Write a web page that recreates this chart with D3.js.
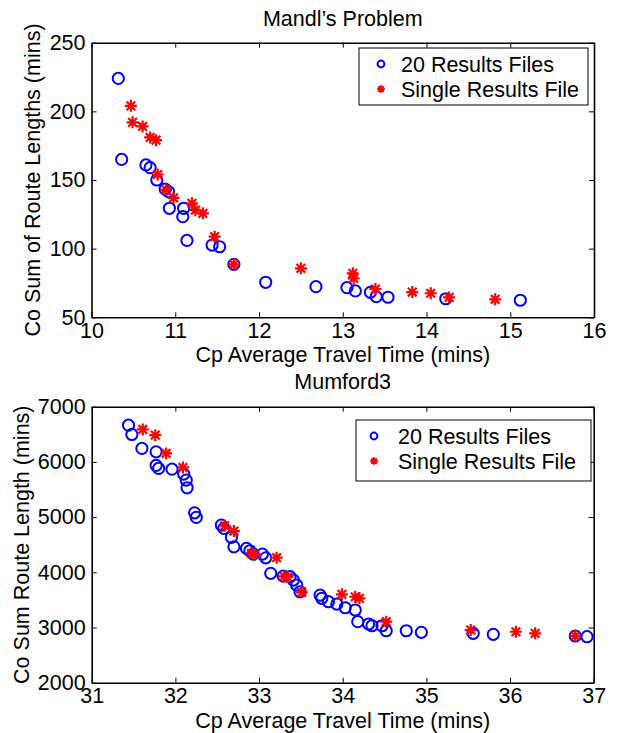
<!DOCTYPE html>
<html>
<head>
<meta charset="utf-8">
<script src="https://cdn.jsdelivr.net/npm/d3@7"></script>
<style>
  html, body { margin: 0; padding: 0; background: #fff; }
  svg { display: block; font-family: "Liberation Sans", Arial, Helvetica, sans-serif; }
</style>
</head>
<body>
<script>
// ---------- data ----------
const mandlTitle = "Mandl’s Problem";
const mandlXTicks = [10, 11, 12, 13, 14, 15, 16];
const mandlYTicks = [50, 100, 150, 200, 250];
const mandlMulti = [
  [10.32,224],[10.36,165],[10.65,161],[10.70,159],[10.78,150],[10.88,143.4],[10.92,141.5],
  [10.93,129.4],[11.10,129.4],[11.09,123.3],[11.14,106],[11.44,102.6],[11.53,101.4],
  [11.70,88.6],[12.08,75.5],[12.68,72.3],[13.05,71.6],[13.15,69.2],[13.33,68.2],
  [13.40,65],[13.54,64.6],[14.23,63.5],[15.12,62.4]
];
const mandlSingle = [
  [10.47,204],[10.49,192],[10.61,189],[10.70,181],[10.77,179],[10.79,154],[10.89,143],
  [10.98,137],[11.20,133],[11.24,128],[11.33,125.7],[11.47,108.7],[11.70,88.6],
  [12.50,85.7],[13.12,82],[13.13,78.4],[13.39,70.6],[13.83,68.4],[14.05,67.5],
  [14.27,64.5],[14.82,63.1]
];

const mumTitle = "Mumford3";
const mumXTicks = [31, 32, 33, 34, 35, 36, 37];
const mumYTicks = [2000, 3000, 4000, 5000, 6000, 7000];
const mumMulti = [
  [31.44,6666],[31.48,6497],[31.60,6244],[31.77,6183],[31.77,5936],[31.80,5882],[31.96,5869],
  [32.10,5779],[32.13,5670],[32.14,5531],[32.23,5078],[32.25,4995],[32.55,4855],[32.58,4795],
  [32.67,4633],[32.70,4462],[32.85,4433],[32.89,4390],[32.93,4330],[33.04,4330],[33.08,4262],
  [33.14,3981],[33.29,3932],[33.37,3920],[33.41,3860],[33.45,3770],[33.49,3648],[33.73,3588],
  [33.75,3528],[33.83,3467],[33.93,3425],[34.03,3358],[34.15,3317],[34.18,3105],[34.31,3063],
  [34.35,3032],[34.47,3032],[34.52,2941],[34.76,2941],[34.94,2912],[35.56,2894],[35.80,2876],
  [36.78,2846],[36.92,2833]
];
const mumSingle = [
  [31.61,6588],[31.76,6485],[31.89,6153],[32.09,5900],[32.59,4843],[32.70,4747],[32.91,4343],
  [32.95,4320],[33.21,4265],[33.30,3925],[33.34,3915],[33.51,3637],[33.99,3601],[34.15,3557],
  [34.20,3528],[34.52,3105],[35.53,2954],[36.07,2923],[36.30,2894],[36.78,2846]
];

const xLabel = "Cp Average Travel Time (mins)";
const mandlYLabel = "Co Sum of Route Lengths (mins)";
const mumYLabel = "Co Sum Route Length (mins)";
const legendLabels = ["20 Results Files", "Single Results File"];

// ---------- drawing ----------
const W = 623, H = 733;
const FS = 21.5;
const svg = d3.select("body").append("svg").attr("width", W).attr("height", H);
svg.append("rect").attr("width", W).attr("height", H).attr("fill", "#fff");

function starPath(r) {
  const d = r * 0.72;
  return `M${-r},0H${r}M0,${-r}V${r}M${-d},${-d}L${d},${d}M${-d},${d}L${d},${-d}`;
}

function panel(cfg) {
  const x = d3.scaleLinear().domain(cfg.xDomain).range([cfg.left, cfg.right]);
  const y = d3.scaleLinear().domain(cfg.yDomain).range([cfg.bottom, cfg.top]);
  const g = svg.append("g");

  // markers
  g.append("g").selectAll("circle").data(cfg.multi).join("circle")
    .attr("cx", d => x(d[0])).attr("cy", d => y(d[1])).attr("r", 5.6)
    .attr("fill", "none").attr("stroke", "#0000ff").attr("stroke-width", 2);
  g.append("g").selectAll("path").data(cfg.single).join("path")
    .attr("transform", d => `translate(${x(d[0])},${y(d[1])})`)
    .attr("d", starPath(6))
    .attr("fill", "none").attr("stroke", "#ff0000").attr("stroke-width", 2.2);

  // axes
  const axB = d3.axisBottom(x).tickValues(cfg.xTicks).tickFormat(d3.format("d"))
    .tickSizeInner(-5).tickSizeOuter(0).tickPadding(5);
  const axT = d3.axisTop(x).tickValues(cfg.xTicks).tickFormat("")
    .tickSizeInner(-5).tickSizeOuter(0);
  const axL = d3.axisLeft(y).tickValues(cfg.yTicks).tickFormat(d3.format("d"))
    .tickSizeInner(-5).tickSizeOuter(0).tickPadding(6);
  const axR = d3.axisRight(y).tickValues(cfg.yTicks).tickFormat("")
    .tickSizeInner(-5).tickSizeOuter(0);

  const styleAxis = sel => {
    sel.selectAll("path.domain").attr("stroke", "#000").attr("stroke-width", 1.6);
    sel.selectAll(".tick line").attr("stroke", "#000").attr("stroke-width", 1);
    sel.selectAll(".tick text").attr("fill", "#000").style("font-size", FS + "px")
      .style("font-family", '"Liberation Sans", Arial, Helvetica, sans-serif');
  };
  g.append("g").attr("transform", `translate(0,${cfg.bottom})`).call(axB).call(styleAxis);
  g.append("g").attr("transform", `translate(0,${cfg.top})`).call(axT).call(styleAxis);
  g.append("g").attr("transform", `translate(${cfg.left},0)`).call(axL).call(styleAxis);
  g.append("g").attr("transform", `translate(${cfg.right},0)`).call(axR).call(styleAxis);

  // title
  g.append("text").attr("x", (cfg.left + cfg.right) / 2).attr("y", cfg.titleY)
    .attr("text-anchor", "middle").style("font-size", FS + "px").text(cfg.title);
  // x label
  g.append("text").attr("x", (cfg.left + cfg.right) / 2).attr("y", cfg.bottom + 45)
    .attr("text-anchor", "middle").style("font-size", FS + "px").text(xLabel);
  // y label
  g.append("text")
    .attr("transform", `translate(${cfg.yLabelX},${(cfg.top + cfg.bottom) / 2}) rotate(-90)`)
    .attr("text-anchor", "middle").style("font-size", FS + "px").text(cfg.yLabel);

  // legend
  const L = cfg.legend;
  const lg = g.append("g");
  lg.append("rect").attr("x", L.x).attr("y", L.y).attr("width", L.w).attr("height", L.h)
    .attr("fill", "#fff").attr("stroke", "#000").attr("stroke-width", 1);
  const rows = [L.y + 16, L.y + 41];
  lg.append("circle").attr("cx", L.x + L.mx).attr("cy", rows[0]).attr("r", 3.4)
    .attr("fill", "none").attr("stroke", "#0000ff").attr("stroke-width", 2);
  lg.append("path").attr("transform", `translate(${L.x + L.mx},${rows[1]})`)
    .attr("d", starPath(3.8)).attr("fill", "none").attr("stroke", "#ff0000").attr("stroke-width", 1.9);
  legendLabels.forEach((t, i) => {
    lg.append("text").attr("x", L.x + L.tx).attr("y", rows[i] + 7.5)
      .style("font-size", FS + "px").text(t);
  });
}

panel({
  xDomain: [10, 16], yDomain: [50, 250],
  left: 91.5, right: 594, top: 42.7, bottom: 317.3,
  xTicks: mandlXTicks, yTicks: mandlYTicks,
  multi: mandlMulti, single: mandlSingle,
  title: mandlTitle, titleY: 26, yLabel: mandlYLabel, yLabelX: 40,
  legend: { x: 359, y: 48, w: 229, h: 57, mx: 22, tx: 42 }
});

panel({
  xDomain: [31, 37], yDomain: [2000, 7000],
  left: 91.7, right: 593.7, top: 406.7, bottom: 682.7,
  xTicks: mumXTicks, yTicks: mumYTicks,
  multi: mumMulti, single: mumSingle,
  title: mumTitle, titleY: 389, yLabel: mumYLabel, yLabelX: 29,
  legend: { x: 356, y: 420, w: 235, h: 61, mx: 18, tx: 42 }
});
</script>
</body>
</html>
